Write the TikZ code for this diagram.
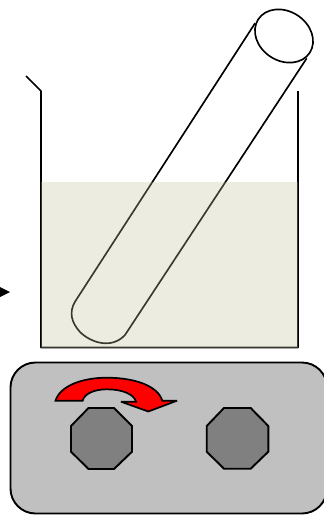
\documentclass[tikz,border=0pt]{standalone}
\definecolor{liquid}{RGB}{197,192,152}
\definecolor{boxgray}{RGB}{192,192,192}
\definecolor{knob}{RGB}{128,128,128}
\tikzset{
  glass/.style={draw=black,line width=1.65pt,line join=round},
  knobshape/.style={draw=black,fill=knob,line width=1.9pt,line join=miter},
}
\begin{document}
\begin{tikzpicture}[x=1pt,y=-1pt]
\useasboundingbox (0,0) rectangle (324,515);
\clip (0,0) rectangle (324,515);
% pointer
\fill[black] (-1,286.5) -- (10,292) -- (-1,297.5) -- cycle;
% beaker
\draw[glass] (26,76) -- (41,91) -- (41,347.5) -- (298,347.5) -- (298,91);
% tube
\draw[glass] (255,23.3) -- (75,301.7) .. controls (69,312) and (71,322) .. (80,332)
  .. controls (90,342) and (111,350) .. (125,335) -- (306.7,58.3);
\draw[glass,fill=white] (284,36) ellipse [x radius=30.7pt,y radius=24.7pt,rotate=-33];
% liquid
\fill[liquid,opacity=0.3] (41,182) rectangle (298,347.5);
% stirrer
\draw[draw=black,fill=boxgray,line width=1.9pt,rounded corners=25pt] (10.5,362.5) rectangle (327,513.5);
\draw[knobshape] (88.5,408) -- (114,408) -- (132,426) -- (132,451.7) -- (114,469) -- (88.5,469) -- (71,451.7) -- (71,426) -- cycle;
\draw[knobshape] (224,408) -- (250.7,408) -- (268.3,426) -- (268.3,451.7) -- (250.7,468.7) -- (224,468.7) -- (206.7,451.7) -- (206.7,426) -- cycle;
% rotation arrow
\draw[draw=black,fill=red,line width=1.7pt,line join=miter,miter limit=2.5]
  (55.5,400.7) .. controls (60,386) and (82,377.7) .. (106.7,377.7)
  .. controls (135,377.7) and (158,386) .. (162.3,400.7)
  -- (177,400.7) -- (148.3,411.5) -- (121,401.7) -- (136,401.7)
  .. controls (134,394) and (122,389.3) .. (106.7,389.3)
  .. controls (94,389.3) and (84,394) .. (82.7,400.7) -- cycle;
\end{tikzpicture}
\end{document}
